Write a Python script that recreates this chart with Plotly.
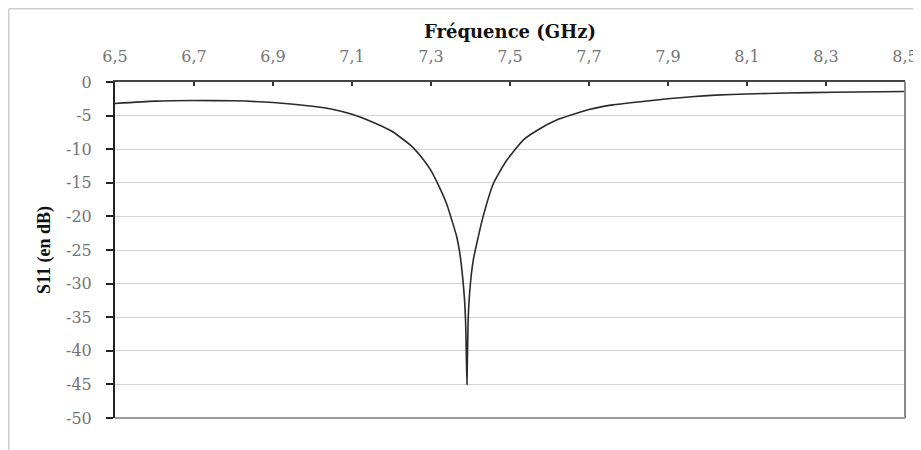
import plotly.graph_objects as go

freq_ghz = [6.50, 6.60, 6.70, 6.80, 6.90, 7.00, 7.05, 7.10, 7.15, 7.20, 7.25, 7.28,
            7.30, 7.32, 7.34, 7.355, 7.365, 7.373, 7.38, 7.385, 7.388, 7.391,
            7.394, 7.399, 7.407, 7.416, 7.432, 7.458, 7.49, 7.534, 7.58, 7.618,
            7.70, 7.76, 7.83, 7.90, 7.96, 8.02, 8.10, 8.20, 8.32, 8.50]
s11_db = [-3.2, -2.85, -2.75, -2.8, -3.05, -3.6, -4.05, -4.8, -5.9, -7.3, -9.5, -11.5,
          -13.2, -15.5, -18.2, -21.0, -23.0, -25.5, -29.0, -32.5, -36.5, -45.0,
          -35.4, -30.5, -26.5, -24.0, -20.0, -15.1, -11.8, -8.6, -6.8, -5.65,
          -4.1, -3.4, -2.93, -2.5, -2.2, -1.95, -1.78, -1.64, -1.52, -1.42]

x_ticks = [6.5, 6.7, 6.9, 7.1, 7.3, 7.5, 7.7, 7.9, 8.1, 8.3, 8.5]
x_labels = ["6,5", "6,7", "6,9", "7,1", "7,3", "7,5", "7,7", "7,9", "8,1", "8,3", "8,5"]
y_ticks = [0, -5, -10, -15, -20, -25, -30, -35, -40, -45, -50]
y_labels = ["0", "-5", "-10", "-15", "-20", "-25", "-30", "-35", "-40", "-45", "-50"]

fig = go.Figure()
fig.add_trace(go.Scatter(x=freq_ghz, y=s11_db, mode="lines",
                         line=dict(color="#2a2a2a", width=1.6, shape="spline", smoothing=0.5),
                         showlegend=False, hoverinfo="skip"))

tick_font = "DejaVu Serif"
# page has an 8px body margin: figure is sized/offset so plot area lands at 115..905 x 82..418
W, H = 913, 442
L, R, T, B = 107, 16, 74, 32
pw, ph = W - L - R, H - T - B
fx = (0.75 - L) / pw
fy = 1 + (T - 0.75) / ph

fig.update_layout(
    width=W, height=H,
    margin=dict(l=L, r=R, t=T, b=B, pad=0),
    paper_bgcolor="white", plot_bgcolor="white",
    font=dict(family=tick_font, color="#666666", size=16),
    xaxis=dict(
        range=[6.5, 8.5], side="top", tickvals=x_ticks, ticktext=x_labels,
        ticks="inside", ticklen=4, tickcolor="#333333", tickwidth=1.5,
        showline=True, linecolor="#444444", linewidth=2,
        showgrid=False, zeroline=False, automargin=False,
        ticklabelstandoff=12,
        tickfont=dict(family=tick_font, size=16, color="#747474"),
        title=dict(text="<b>Fréquence (GHz)</b>", standoff=3,
                   font=dict(family="DejaVu Serif", size=18, color="#111111")),
    ),
    yaxis=dict(
        range=[-50, 0], tickvals=y_ticks, ticktext=y_labels, ticks="outside", ticklen=7,
        tickcolor="#222222", tickwidth=1.5,
        showline=True, linecolor="#222222", linewidth=2,
        showgrid=True, gridcolor="#d4d4d4", gridwidth=1.2, zeroline=False,
        ticklabelstandoff=11, automargin=False,
        tickfont=dict(family=tick_font, size=16, color="#747474"),
        title=dict(text="<b>S11 (en dB)</b>", standoff=11,
                   font=dict(family="Liberation Serif", size=18, color="#111111")),
    ),
    shapes=[
        dict(type="line", xref="paper", yref="paper", x0=1, x1=1, y0=0, y1=1,
             line=dict(color="#888888", width=2)),
        dict(type="line", xref="paper", yref="paper", x0=0, x1=1, y0=0, y1=0,
             line=dict(color="#999999", width=2)),
        dict(type="line", xref="paper", yref="paper", x0=fx, x1=1.2, y0=fy, y1=fy,
             line=dict(color="#cccccc", width=1.5)),
        dict(type="line", xref="paper", yref="paper", x0=fx, x1=fx, y0=-0.3, y1=fy,
             line=dict(color="#cccccc", width=1.5)),
    ],
)

fig.write_html("out.html")
